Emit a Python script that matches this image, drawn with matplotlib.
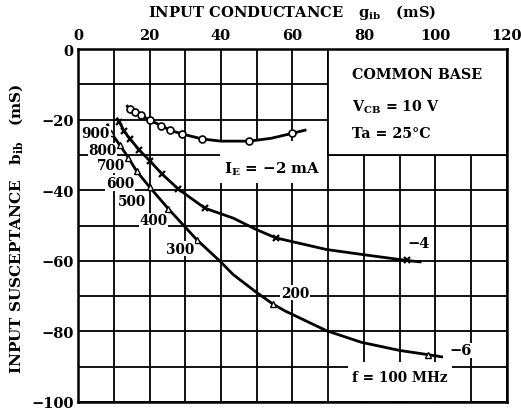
import matplotlib
matplotlib.use('Agg')
import matplotlib.pyplot as plt
from matplotlib.patches import Rectangle
from matplotlib.ticker import MultipleLocator

plt.rcParams['font.family'] = ['DejaVu Serif']
plt.rcParams['font.weight'] = 'bold'
plt.rcParams['mathtext.fontset'] = 'dejavuserif'

# I_E = -2 mA  (circles)
g2_line = [13.8, 14.5, 15.9, 17.7, 20.1, 23.3, 25.7, 29.2, 34.8, 40.0, 47.9, 54.0, 59.9, 63.5]
b2_line = [-16.2, -16.9, -17.8, -18.8, -20.2, -21.7, -23.0, -24.1, -25.5, -26.1, -26.1, -25.3, -23.9, -23.0]
g2_pts = [14.5, 15.9, 17.7, 20.1, 23.3, 25.7, 29.2, 34.8, 47.9, 59.9]
b2_pts = [-16.9, -17.8, -18.8, -20.2, -21.7, -23.0, -24.1, -25.5, -26.1, -23.9]

# I_E = -4 mA  (crosses)
g4_line = [11.0, 11.6, 12.9, 14.5, 17.2, 20.1, 23.6, 28.1, 35.5, 43.4, 50.0, 55.3, 69.5, 79.4, 91.9, 95.7]
b4_line = [-19.8, -20.7, -23.3, -25.4, -28.7, -31.7, -35.5, -39.7, -45.1, -47.9, -51.2, -53.5, -56.8, -58.2, -59.9, -60.3]
g4_pts = [11.6, 12.9, 14.5, 17.2, 20.1, 23.6, 28.1, 35.5, 55.3, 91.9]
b4_pts = [-20.7, -23.3, -25.4, -28.7, -31.7, -35.5, -39.7, -45.1, -53.5, -59.9]

# I_E = -6 mA  (triangles), f = 900 ... 100 MHz
g6_line = [8.3, 9.2, 11.7, 14.1, 16.4, 20.1, 25.3, 33.2, 39.7, 43.4, 50.0, 54.6, 57.9, 69.5, 79.3, 90.0, 98.0, 101.7]
b6_line = [-21.5, -23.7, -27.2, -30.8, -34.6, -39.2, -45.3, -54.0, -60.1, -63.9, -69.0, -72.3, -74.2, -79.8, -83.1, -85.4, -86.6, -87.2]
g6_pts = [9.2, 11.7, 14.1, 16.4, 20.1, 25.3, 33.2, 54.6, 98.0]
b6_pts = [-23.7, -27.2, -30.8, -34.6, -39.2, -45.3, -54.0, -72.3, -86.6]

freq_labels = ['900', '800', '700', '600', '500', '400', '300', '200']
freq_g = [5.0, 6.9, 9.1, 11.7, 15.2, 21.1, 28.5, 60.7]
freq_b = [-23.9, -28.7, -33.0, -38.0, -43.1, -48.5, -56.6, -69.0]

fig = plt.figure(figsize=(5.21, 4.10), dpi=100)
ax = fig.add_axes([78 / 521, 1 - 403 / 410, 429 / 521, 353 / 410])

ax.set_xlim(0, 120)
ax.set_ylim(-100, 0)
ax.xaxis.set_major_locator(MultipleLocator(20))
ax.xaxis.set_minor_locator(MultipleLocator(10))
ax.yaxis.set_major_locator(MultipleLocator(20))
ax.yaxis.set_minor_locator(MultipleLocator(10))
ax.xaxis.tick_top()
ax.tick_params(which='both', length=0, labelsize=10.5, pad=5)
ax.tick_params(axis='y', pad=3)
ax.set_axisbelow(True)
ax.grid(which='both', color='black', lw=1.3)
for s in ax.spines.values():
    s.set_linewidth(1.8)

# blank areas behind the annotations
ax.add_patch(Rectangle((70, -30), 50, 30, facecolor='white', edgecolor='black', lw=1.3, zorder=1))
ax.add_patch(Rectangle((39.7, -38), 30, 12, facecolor='white', edgecolor='none', zorder=1))
ax.add_patch(Rectangle((75.5, -99.6), 29, 11, facecolor='white', edgecolor='none', zorder=1))

ax.plot(g2_line, b2_line, color='black', lw=2, zorder=3)
ax.plot(g2_pts, b2_pts, 'o', ms=5, mfc='white', mec='black', mew=1.2, zorder=4)
ax.plot(g4_line, b4_line, color='black', lw=2, zorder=3)
ax.plot(g4_pts, b4_pts, 'x', ms=4.5, mec='black', mew=1.6, zorder=4)
ax.plot(g6_line, b6_line, color='black', lw=2, zorder=3)
ax.plot(g6_pts, b6_pts, '^', ms=3.8, mfc='white', mec='black', mew=1.0, zorder=4)

box = dict(facecolor='white', edgecolor='none', pad=0.5)
for lab, g, b in zip(freq_labels, freq_g, freq_b):
    ax.text(g, b, lab, fontsize=9.8, ha='center', va='center', bbox=box, zorder=5)

ax.text(95.4, -54.9, '−4', fontsize=10.5, ha='center', va='center', bbox=box, zorder=5)
ax.text(107.1, -85.4, '−6', fontsize=10.5, ha='center', va='center', bbox=box, zorder=5)
ax.text(90, -93, 'f = 100 MHz', fontsize=9.8, ha='center', va='center', zorder=5)
ax.text(54.3, -33.8, 'I$_{\\mathbf{E}}$ = −2 mA', fontsize=10.8, ha='center', va='center', zorder=5)

ax.text(76.6, -7, 'COMMON BASE', fontsize=10.3, ha='left', va='center', zorder=5)
ax.text(76.6, -16.3, 'V$_{\\mathbf{CB}}$ = 10 V', fontsize=10.3, ha='left', va='center', zorder=5)
ax.text(76.6, -23.9, 'Ta = 25°C', fontsize=10.3, ha='left', va='center', zorder=5)

fig.text(292 / 521, 1 - 12 / 410, 'INPUT CONDUCTANCE   $\\mathbf{g_{ib}}$   (mS)',
         fontsize=10.6, ha='center', va='center')
fig.text(16 / 521, 1 - 229 / 410, 'INPUT SUSCEPTANCE   $\\mathbf{b_{ib}}$   (mS)',
         fontsize=11, ha='center', va='center', rotation=90)

fig.savefig('out.png', dpi=100)
